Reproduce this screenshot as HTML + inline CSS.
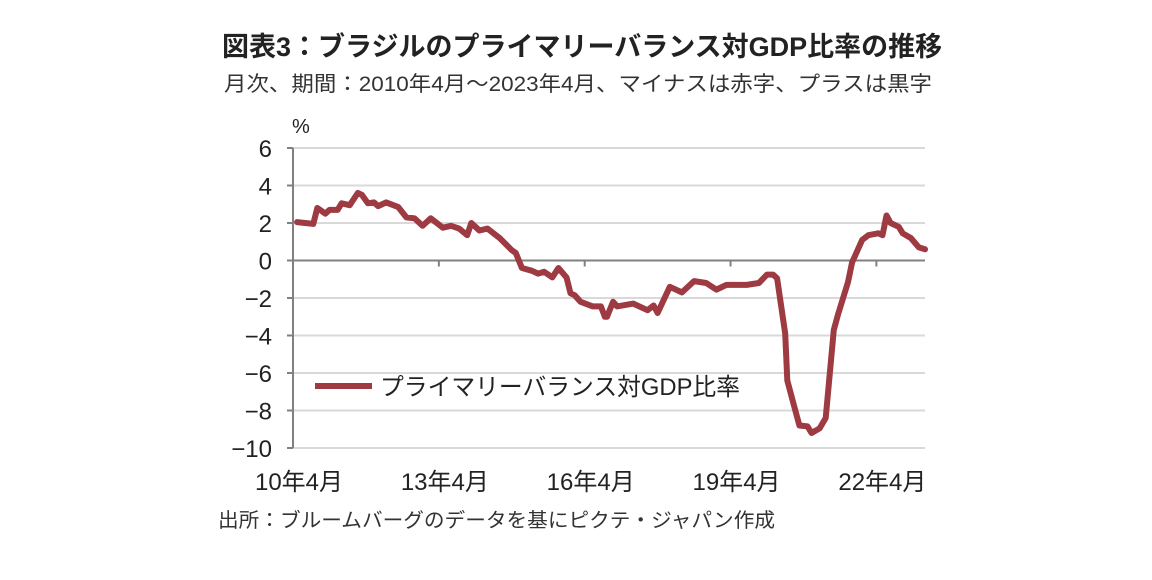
<!DOCTYPE html>
<html><head><meta charset="utf-8"><style>
body{margin:0;background:#fff;width:1152px;height:580px;overflow:hidden;font-family:"Liberation Sans","Noto Sans CJK JP",sans-serif;color:#222}
</style></head><body>
<svg id="c" width="1152" height="580" style="position:absolute;left:0;top:0">
<text x="222" y="56" font-size="27" font-weight="bold" fill="#222">図表3：ブラジルのプライマリーバランス対GDP比率の推移</text>
<text x="224" y="91" font-size="21" fill="#333" textLength="708" lengthAdjust="spacingAndGlyphs">月次、期間：2010年4月～2023年4月、マイナスは赤字、プラスは黒字</text>
<text x="292" y="133" font-size="20" fill="#222">%</text>
<text x="218" y="527" font-size="20" fill="#333" textLength="557" lengthAdjust="spacingAndGlyphs">出所：ブルームバーグのデータを基にピクテ・ジャパン作成</text>
<g id="grid"></g><g id="axes"></g><g id="series"></g>
<line x1="315" y1="386" x2="372" y2="386" stroke="#9d3a42" stroke-width="6"/>
<text x="380" y="395" font-size="24" fill="#222" textLength="360" lengthAdjust="spacingAndGlyphs">プライマリーバランス対GDP比率</text>
</svg>
<script>
const yTicks=[6,4,2,0,-2,-4,-6,-8,-10];
const xTickLabels=["10年4月","13年4月","16年4月","19年4月","22年4月"];
const xTickMonths=[0,36,72,108,144];
const months=[1,5,6,8,9,11,12,14,16,17,18.5,20,21,23,26,28,30,32,34,37,39,41,43,44,46,48,51,54,55,56.5,59,60.5,62,64,65.5,67.5,68.5,69.5,71,74,76,77,77.5,79,80,84,87.5,89,90,93,96,99,102,104.5,107,112,115,117,118.5,119.5,121.5,122,123.5,125,127,128,130,131.5,133.5,134.5,137,138,140.5,142,144.5,145.5,146.5,147.5,149.5,150.5,152.5,154.5,156];
const values=[2.05,1.95,2.8,2.5,2.7,2.7,3.05,2.95,3.6,3.5,3.05,3.1,2.9,3.1,2.85,2.3,2.25,1.85,2.25,1.75,1.85,1.7,1.35,2.0,1.6,1.7,1.2,0.55,0.4,-0.4,-0.55,-0.7,-0.6,-0.9,-0.4,-0.9,-1.75,-1.85,-2.2,-2.45,-2.45,-3.0,-3.0,-2.2,-2.45,-2.3,-2.65,-2.4,-2.8,-1.4,-1.7,-1.1,-1.2,-1.55,-1.3,-1.3,-1.2,-0.75,-0.75,-0.95,-3.9,-6.4,-7.6,-8.8,-8.85,-9.2,-8.95,-8.4,-3.7,-2.9,-1.15,-0.1,1.1,1.35,1.45,1.35,2.4,2.0,1.8,1.45,1.2,0.7,0.6];
const X0=293,X1=925,NM=156,Y0=260.5,PY=18.75;
const xs=m=>X0+(X1-X0)*m/NM, ys=v=>Y0-v*PY;
const NS="http://www.w3.org/2000/svg";
function mk(t,a,p){const e=document.createElementNS(NS,t);for(const k in a)e.setAttribute(k,a[k]);p.appendChild(e);return e;}
const g=document.getElementById('grid'),ax=document.getElementById('axes'),s=document.getElementById('series');
yTicks.forEach(v=>{
 if(v!==0){const l=mk('line',{x1:X0,x2:X1,y1:ys(v),y2:ys(v),stroke:'#d9d9d9','stroke-width':2},g);
 
 }
 const tk=mk('line',{x1:X0-6,x2:X0,y1:ys(v),y2:ys(v),stroke:'#808080','stroke-width':2},ax);
 
 
 const t=mk('text',{x:272,y:ys(v)+9,'font-size':24,'text-anchor':'end',fill:'#222'},ax);
 t.textContent=v<0?'−'+(-v):String(v);
 
 
});
const za=mk('line',{x1:X0,x2:X1,y1:Y0,y2:Y0,stroke:'#808080','stroke-width':2},ax);


const ya=mk('line',{x1:X0,x2:X0,y1:ys(6),y2:ys(-10),stroke:'#808080','stroke-width':2},ax);


xTickMonths.forEach((m,i)=>{
 if(i>0){const tk=mk('line',{x1:xs(m),x2:xs(m),y1:Y0,y2:Y0+6,stroke:'#808080','stroke-width':2},ax);
 
 }
 const t=mk('text',{x:xs(m)+6,y:490,'font-size':24,'text-anchor':'middle',fill:'#222'},ax);
 t.textContent=xTickLabels[i];
 
 
});
const d=months.map((m,i)=>(i?'L':'M')+xs(m).toFixed(1)+','+ys(values[i]).toFixed(1)).join('');
const p=mk('path',{d:d,fill:'none',stroke:'#9d3a42','stroke-width':6,'stroke-linejoin':'round','stroke-linecap':'round'},s);


</script>
</body></html>
